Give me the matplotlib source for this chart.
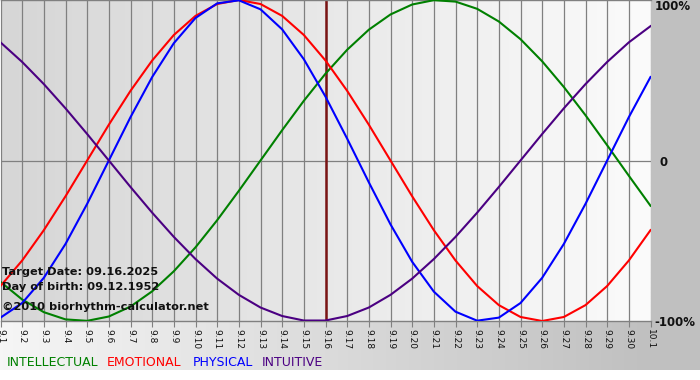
import numpy as np
import matplotlib
matplotlib.use("Agg")
import matplotlib.pyplot as plt
from matplotlib.colors import LinearSegmentedColormap

plt.rcParams['font.family'] = ['DejaVu Sans']

# ---- data ----
days = ["9.1", "9.2", "9.3", "9.4", "9.5", "9.6", "9.7", "9.8", "9.9", "9.10",
        "9.11", "9.12", "9.13", "9.14", "9.15", "9.16", "9.17", "9.18", "9.19", "9.20",
        "9.21", "9.22", "9.23", "9.24", "9.25", "9.26", "9.27", "9.28", "9.29", "9.30", "10.1"]

physical = [-0.979, -0.888, -0.731, -0.520, -0.270, 0.0, 0.270, 0.520, 0.731, 0.888,
            0.979, 0.998, 0.942, 0.817, 0.631, 0.398, 0.136, -0.136, -0.398, -0.631,
            -0.817, -0.942, -0.998, -0.979, -0.888, -0.731, -0.520, -0.270, 0.0, 0.270, 0.520]

emotional = [-0.782, -0.623, -0.434, -0.223, 0.0, 0.223, 0.434, 0.623, 0.782, 0.901,
             0.975, 1.0, 0.975, 0.901, 0.782, 0.623, 0.434, 0.223, 0.0, -0.223,
             -0.434, -0.623, -0.782, -0.901, -0.975, -1.0, -0.975, -0.901, -0.782, -0.623, -0.434]

intellectual = [-0.756, -0.866, -0.945, -0.990, -0.999, -0.972, -0.910, -0.815, -0.690, -0.541,
                -0.372, -0.189, 0.0, 0.189, 0.372, 0.541, 0.690, 0.815, 0.910, 0.972,
                0.999, 0.990, 0.945, 0.866, 0.756, 0.618, 0.458, 0.282, 0.095, -0.095, -0.282]

intuitive = [0.736, 0.614, 0.476, 0.325, 0.165, 0.0, -0.165, -0.325, -0.476, -0.614,
             -0.736, -0.837, -0.916, -0.969, -0.997, -0.997, -0.969, -0.916, -0.837, -0.736,
             -0.614, -0.476, -0.325, -0.165, 0.0, 0.165, 0.325, 0.476, 0.614, 0.736, 0.837]

target_day = "9.16"
info_lines = ["Target Date: 09.16.2025", "Day of birth: 09.12.1952", "\u00a92010 biorhythm-calculator.net"]
legend_names = ["INTELLECTUAL", "EMOTIONAL", "PHYSICAL", "INTUITIVE"]
right_labels = ["100%", "0", "-100%"]

# ---- styles ----
C_INT = "#008000"
C_EMO = "#ff0000"
C_PHY = "#0000ff"
C_ITU = "#4b0082"

W, H = 700, 380
fig = plt.figure(figsize=(W / 100, H / 100), dpi=100)

# outer background gradient
bg = fig.add_axes([0, 0, 1, 1])
bg.set_xlim(0, W)
bg.set_ylim(H, 0)
bg.axis("off")
cm_out = LinearSegmentedColormap.from_list("out", ["#f6f6f6", "#c0c0c0"])
grad = np.tile(np.clip(np.linspace(0, W, 700) / 650.0, 0, 1), (2, 1))
bg.imshow(grad, cmap=cm_out, extent=[0, W, 370, 0], aspect="auto", vmin=0, vmax=1)
bg.add_patch(plt.Rectangle((0, 370), W, 10, color="white", lw=0))

# plot axes
x = np.arange(len(days))
ax = fig.add_axes([0.5 / W, (H - 321) / H, 650 / W, 321 / H])
ax.set_xlim(0, len(days) - 1)
ax.set_ylim(-1.0, 1.0)
cm_in = LinearSegmentedColormap.from_list("in", ["#d6d6d6", "#fbfbfb"])
ax.imshow(np.tile(np.linspace(0, 1, 256), (2, 1)), cmap=cm_in,
          extent=[0, len(days) - 1, -1, 1], aspect="auto", zorder=0)

for xi in x:
    ax.axvline(xi, color="#808080", lw=0.9, zorder=1)
ax.axhline(0, color="#808080", lw=0.9, zorder=1)

ax.plot(x, intellectual, color=C_INT, lw=1.5, zorder=3)
ax.plot(x, emotional, color=C_EMO, lw=1.5, zorder=3)
ax.plot(x, physical, color=C_PHY, lw=1.5, zorder=3)
ax.plot(x, intuitive, color=C_ITU, lw=1.5, zorder=3)

ax.axvline(days.index(target_day), color="#7a1414", lw=1.8, zorder=2)

for s in ["left", "right"]:
    ax.spines[s].set_visible(False)
for s in ["top", "bottom"]:
    ax.spines[s].set_color("#808080")
    ax.spines[s].set_linewidth(1.0)

ax.set_yticks([])
ax.set_xticks(x)
ax.set_xticklabels(days, rotation=-90, fontsize=6.5, color="#111111")
ax.tick_params(axis="x", direction="out", length=4, color="#808080", pad=2)


def px_text(xp, yp, s, **kw):
    fig.text(xp / W, 1 - yp / H, s, zorder=10, **kw)


# info text (drawn above the plot)
ys = [272, 287, 307]
for t, yy in zip(info_lines, ys):
    px_text(2, yy, t, fontsize=8.2, fontweight="bold", color="#111111", va="center", ha="left")

# right labels
for t, xx, yy in zip(right_labels, [655, 659, 654], [7, 162, 322]):
    px_text(xx, yy, t, fontsize=8.5, fontweight="bold", color="#111111", va="center", ha="left")

# legend text
lx = [7, 107, 193, 262]
for name, col, xx in zip(legend_names, [C_INT, C_EMO, C_PHY, C_ITU], lx):
    px_text(xx, 362, name, fontsize=9, color=col, va="center", ha="left")

fig.savefig("out.png", dpi=100)
